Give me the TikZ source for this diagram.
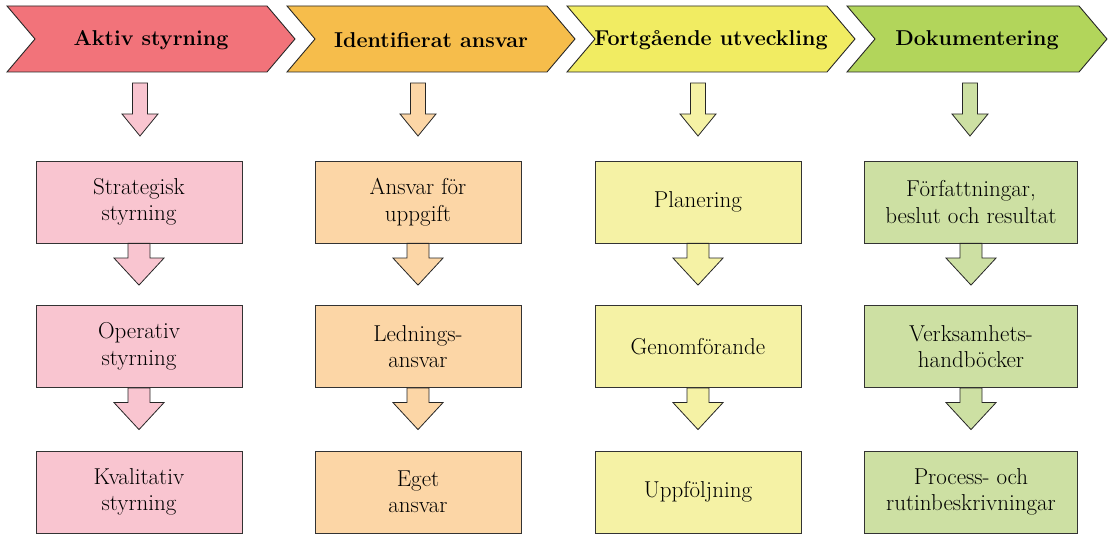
\documentclass[tikz,border=0pt]{standalone}
\usepackage{fontspec}
\usetikzlibrary{calc}
\definecolor{hA}{HTML}{F2737A}
\definecolor{hB}{HTML}{F6BD4B}
\definecolor{hC}{HTML}{F1EC62}
\definecolor{hD}{HTML}{B2D55B}
\definecolor{bA}{HTML}{F9C5D0}
\definecolor{bB}{HTML}{FCD6A6}
\definecolor{bC}{HTML}{F5F2A5}
\definecolor{bD}{HTML}{CDE0A3}
\tikzset{
  chev/.style={draw=black!85, line width=0.9pt, line join=miter},
  headtxt/.style={font=\fontsize{21.5}{24}\selectfont\bfseries, inner sep=0pt},
  box/.style={draw=black!80, line width=0.8pt, minimum height=82pt, inner sep=0pt,
    align=center, font=\fontsize{23}{26.5}\selectfont},
  blk/.style={draw=black!85, line width=0.8pt, line join=miter}
}
\newcommand\mychev[3]{%
  \draw[chev,fill=#3] (#1,6) -- (#2-28,6) -- (#2,39) -- (#2-28,72) -- (#1,72) -- (#1+28,39) -- cycle;}
\newcommand\blockarr[6]{%
  \draw[blk,fill=#6] let \p1=(#1),\p2=(#2) in
    (\x1-#3pt,\y1) -- (\x1+#3pt,\y1) -- (\x1+#3pt,\y2+#5pt) -- (\x1+#4pt,\y2+#5pt)
    -- (\x1,\y2) -- (\x1-#4pt,\y2+#5pt) -- (\x1-#3pt,\y2+#5pt) -- cycle;}
\begin{document}
\begin{tikzpicture}[x=1pt,y=-1pt]
\useasboundingbox (0,0) rectangle (1114,534);
% header chevrons
\mychev{7}{295}{hA}
\mychev{287}{575}{hB}
\mychev{567}{855}{hC}
\mychev{847}{1107}{hD}
\node[headtxt] (h1) at (151,40) {Aktiv styrning};
\node[headtxt] (h2) at (431,40) {Identifierat ansvar};
\node[headtxt] (h3) at (711,40) {Fortgående utveckling};
\node[headtxt] (h4) at (977,40) {Dokumentering};
% boxes
\node[box,fill=bA,minimum width=206pt] (a1) at (139,202) {Strategisk\\styrning};
\node[box,fill=bA,minimum width=206pt] (a2) at (139,346.5) {Operativ\\styrning};
\node[box,fill=bA,minimum width=206pt] (a3) at (139,492) {Kvalitativ\\styrning};
\node[box,fill=bB,minimum width=206pt] (b1) at (418,202) {Ansvar för\\uppgift};
\node[box,fill=bB,minimum width=206pt] (b2) at (418,346.5) {Lednings-\\ansvar};
\node[box,fill=bB,minimum width=206pt] (b3) at (418,492) {Eget\\ansvar};
\node[box,fill=bC,minimum width=206pt] (c1) at (698,202) {Planering};
\node[box,fill=bC,minimum width=206pt] (c2) at (698,346.5) {Genomförande};
\node[box,fill=bC,minimum width=206pt] (c3) at (698,492) {Uppföljning};
\node[box,fill=bD,minimum width=213pt] (d1) at (971,202) {Författningar,\\beslut och resultat};
\node[box,fill=bD,minimum width=213pt] (d2) at (971,346.5) {Verksamhets-\\handböcker};
\node[box,fill=bD,minimum width=213pt] (d3) at (971,492) {Process- och\\rutinbeskrivningar};
% top arrows
\foreach \k/\xx/\cc in {1/140/bA,2/418/bB,3/698/bC,4/970/bD}{
  \coordinate (u\k) at (\xx,83);
  \coordinate (v\k) at (\xx,136);
  \blockarr{u\k}{v\k}{7.5}{18}{22}{\cc}
}
% arrows between boxes
\foreach \q/\cc in {a/bA,b/bB,c/bC,d/bD}{
  \coordinate (\q t2) at ($(\q2.north)+(0,-20)$);
  \coordinate (\q t3) at ($(\q3.north)+(0,-21)$);
  \blockarr{\q1.south}{\q t2}{11}{25}{27}{\cc}
  \blockarr{\q2.south}{\q t3}{11}{25}{27}{\cc}
}
\end{tikzpicture}
\end{document}
